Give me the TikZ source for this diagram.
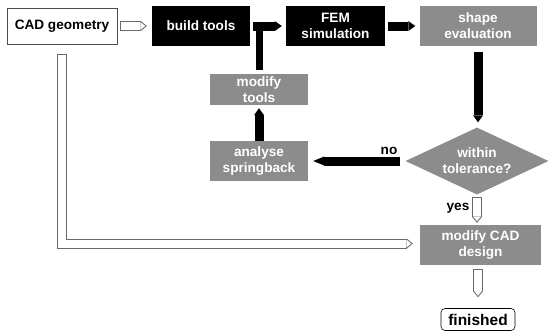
\documentclass[tikz,border=0pt]{standalone}
\usepackage{fontspec}
\setmainfont{Liberation Sans}
\usetikzlibrary{arrows.meta}
\usetikzlibrary{shapes.geometric}
\definecolor{boxgray}{RGB}{140,140,140}
\definecolor{rimgray}{RGB}{105,105,105}
\tikzset{box/.style={minimum width=98pt,minimum height=40pt,inner sep=0pt,align=center,font=\bfseries\fontsize{13.6}{16}\selectfont}}
\tikzset{blackbox/.style={box,fill=black,text=white}}
\tikzset{graybox/.style={box,fill=boxgray,text=white}}
\tikzset{decision/.style={diamond,aspect=2.2,fill=boxgray,text=white,inner sep=0pt,align=center,font=\bfseries\fontsize{13.6}{16}\selectfont}}
\tikzset{blk/.style={draw=black,line width=9pt,-{Triangle[length=7pt,width=10pt,line width=0pt]}}}
\tikzset{hollowrim/.style={draw=rimgray,line width=10pt,-{Triangle[length=6pt,width=10pt,line width=0pt]}}}
\tikzset{hollowcore/.style={draw=white,line width=8pt,-{Triangle[length=4.8pt,width=8pt,line width=0pt]}}}
% outlined arrow: rim first, then the white core on top
\newcommand{\hollowarrow}[3]{%
  \draw[hollowrim,shorten <=#1pt,shorten >=#2pt] #3;
  \draw[hollowcore,shorten <=#1pt+1pt,shorten >=#2pt+1.6pt] #3;}

\begin{document}
\begin{tikzpicture}[x=1pt,y=-1pt]
  \useasboundingbox (0,0) rectangle (549,333);
  \node[box,draw=black!70,line width=0.8pt,minimum width=110pt,minimum height=36pt] (cad) at (62,26) {CAD geometry};
  \node[blackbox] (build) at (201,26) {build tools};
  \node[blackbox,minimum width=99pt] (fem) at (335.5,26) {FEM\\simulation};
  \node[graybox,minimum width=117pt] (shape) at (478,26) {shape\\evaluation};
  \node[graybox,minimum height=31pt] (modtools) at (259,89.5) {modify\\tools};
  \node[graybox] (analyse) at (259,161) {analyse\\springback};
  \node[decision,minimum width=143pt,minimum height=67pt] (tol) at (477,161) {within\\tolerance?};
  \node[graybox,minimum width=121pt] (modcad) at (480.5,245) {modify CAD\\design};
  \node[draw=black,line width=0.6pt,rounded corners=4pt,minimum width=74pt,minimum height=22pt,inner sep=0pt,font=\bfseries\fontsize{15.5}{18}\selectfont] (done) at (478,319.5) {finished};
  \node[font=\bfseries\fontsize{13.6}{16}\selectfont] (no) at (389,151) {no};
  \node[font=\bfseries\fontsize{13.6}{16}\selectfont] (yes) at (458,208) {yes};

  \hollowarrow{3}{5}{(cad.east) -- (build.west)}
  \draw[line width=7pt,shorten <=4pt] (modtools.north) -- (modtools.north |- build.east);
  \draw[blk,shorten <=3pt,shorten >=4pt] (build.east) -- (fem.west);
  \draw[blk,shorten <=3pt,shorten >=4pt] (fem.east) -- (shape.west);
  \draw[blk,shorten <=6pt,shorten >=5pt] (shape.south) -- (shape.south |- tol.north);
  \draw[blk,shorten <=5pt,shorten >=5pt,-{Triangle[length=11pt,width=9pt,line width=0pt]}] (tol.west) -- (analyse.east);
  \draw[blk,shorten >=3pt] (analyse.north) -- (modtools.south);
  \hollowarrow{2}{2}{(tol.south) -- (tol.south |- modcad.north)}
  \hollowarrow{4}{11}{(done.north |- modcad.south) -- (done.north)}
  \hollowarrow{8}{7}{([yshift=-1.5pt]cad.south) |- ([yshift=1.5pt]modcad.west)}
\end{tikzpicture}
\end{document}
